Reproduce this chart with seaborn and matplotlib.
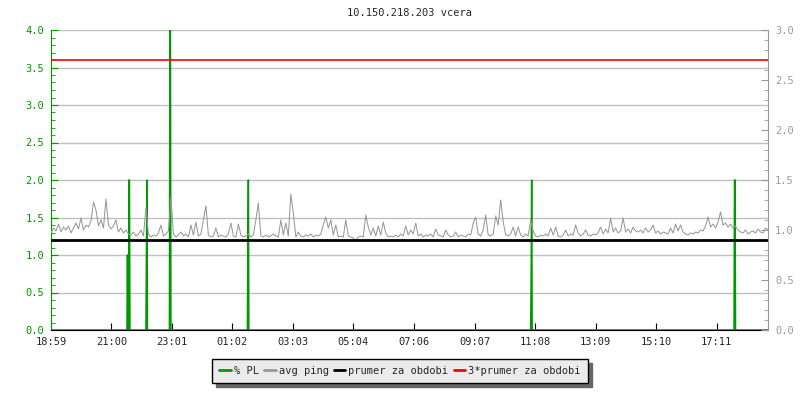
import matplotlib
matplotlib.use("Agg")
import matplotlib.pyplot as plt
import seaborn as sns
import numpy as np
import pandas as pd

title = "10.150.218.203 vcera"
time_labels = ["18:59", "21:00", "23:01", "01:02", "03:03", "05:04",
               "07:06", "09:07", "11:08", "13:09", "15:10", "17:11"]

# avg ping (ms), one sample every 5 minutes from 18:59
avg_ping = [
    0.97, 1.02, 0.99, 1.06, 0.98, 1.03, 1.00, 1.04, 0.97, 1.02, 1.07, 1.01,
    1.12, 1.00, 1.05, 1.03, 1.09, 1.28, 1.20, 1.04, 1.10, 1.02, 1.31, 1.05,
    1.01, 1.04, 1.10, 0.98, 1.02, 0.97, 1.00, 0.96, 0.95, 0.98, 0.94, 0.96,
    1.00, 0.94, 1.22, 0.96, 0.93, 0.95, 0.94, 0.97, 1.05, 0.94, 0.96, 0.99,
    1.33, 0.96, 0.93, 0.95, 0.98, 0.94, 0.96, 0.93, 1.05, 0.95, 1.08, 0.94,
    0.96, 1.10, 1.24, 0.95, 0.93, 0.94, 1.02, 0.93, 0.95, 0.94, 0.93, 0.96,
    1.07, 0.94, 0.93, 1.06, 0.95, 0.93, 0.94, 0.96, 0.93, 0.95, 1.10, 1.27,
    0.94, 0.93, 0.95, 0.93, 0.94, 0.96, 0.94, 0.93, 1.10, 0.95, 1.07, 0.94,
    1.36, 1.17, 0.93, 0.98, 0.94, 0.93, 0.95, 0.94, 0.96, 0.93, 0.95, 0.94,
    0.96, 1.05, 1.13, 1.02, 1.10, 0.95, 1.05, 0.93, 0.94, 0.93, 1.10, 0.94,
    0.93, 0.92, 0.89, 0.93, 0.94, 0.93, 1.15, 1.03, 0.95, 1.02, 0.94, 1.04,
    0.95, 1.08, 0.97, 0.93, 0.94, 0.93, 0.95, 0.93, 0.96, 0.94, 1.04, 0.95,
    1.00, 0.96, 1.07, 0.94, 0.96, 0.93, 0.95, 0.94, 0.96, 0.93, 1.01, 0.95,
    0.94, 0.93, 1.00, 0.95, 0.93, 0.94, 0.98, 0.93, 0.95, 0.94, 0.93, 0.96,
    0.95, 1.07, 1.13, 0.96, 0.94, 1.00, 1.15, 0.95, 0.94, 0.96, 1.14, 1.05,
    1.30, 1.08, 0.95, 0.94, 0.96, 1.03, 0.94, 1.03, 0.95, 0.93, 0.96, 0.94,
    1.10, 0.99, 0.94, 0.93, 0.95, 0.94, 0.96, 0.94, 1.02, 0.95, 1.03, 0.94,
    0.93, 0.95, 1.00, 0.94, 0.96, 0.95, 1.05, 0.97, 0.94, 0.96, 1.00, 0.95,
    0.94, 0.96, 0.95, 0.97, 1.03, 0.96, 1.01, 0.97, 1.12, 0.98, 1.02, 0.97,
    0.99, 1.12, 0.98, 1.01, 0.97, 1.03, 0.99, 0.98, 1.00, 0.97, 1.02, 0.98,
    1.00, 1.05, 0.97, 0.99, 0.96, 0.98, 0.97, 0.96, 1.02, 0.97, 1.06, 0.99,
    1.05, 0.98, 0.96, 0.95, 0.97, 0.96, 0.98, 0.97, 1.00, 0.99, 1.04, 1.13,
    1.03, 1.06, 1.02, 1.08, 1.18, 1.05, 1.07, 1.03, 1.06, 1.02, 1.04, 1.00,
    0.98, 0.97, 1.00, 0.96, 0.98, 0.99, 0.97, 1.01, 0.98, 0.97, 1.02, 1.00,
]
ping_step_min = 5

# packet loss (%), non-zero minutes only
pl_event_min = [153, 156, 157, 191, 192, 238, 239, 394, 395, 961, 962, 1368, 1369]
pl_event_val = [1.0, 2.0, 2.0, 1.0, 2.0, 4.0, 4.0, 1.0, 2.0, 0.75, 2.0, 2.0, 2.0]

mean_ping = 0.90
total_min = 1435

GREEN = "#009900"
GRAY = "#999999"

# minutes since 18:59 for each tick label
def minutes_from_start(lbl, start="18:59"):
    h, m = map(int, lbl.split(":"))
    h0, m0 = map(int, start.split(":"))
    return ((h * 60 + m) - (h0 * 60 + m0)) % 1440

tick_pos = [minutes_from_start(t) for t in time_labels]

ping_df = pd.DataFrame({"t": np.arange(len(avg_ping)) * ping_step_min, "ping": avg_ping})
pl = np.zeros(total_min + 1)
pl[pl_event_min] = pl_event_val
pl_df = pd.DataFrame({"t": np.arange(total_min + 1), "pl": pl})

sns.set_style("white")
plt.rcParams["font.family"] = ["DejaVu Sans Mono"]
plt.rcParams["font.size"] = 7.5

fig = plt.figure(figsize=(8, 4), dpi=100)
ax = fig.add_axes([51 / 800, 70 / 400, 717 / 800, 300 / 400])

sns.lineplot(data=pl_df, x="t", y="pl", ax=ax, color=GREEN, lw=1.1,
             estimator=None, label="% PL", legend=False)
ax.set_ylim(0, 4.0)
ax.set_xlim(0, total_min)
ax.set_yticks(np.arange(0, 4.01, 0.5))
ax.set_yticks(np.arange(0, 4.01, 0.1), minor=True)
ax.yaxis.set_major_formatter(matplotlib.ticker.FormatStrFormatter("%.1f"))
ax.grid(axis="y", color="#c0c0c0", lw=1)
ax.set_xticks(tick_pos)
ax.set_xticklabels(time_labels)
ax.tick_params(axis="y", which="major", direction="in", length=5, color=GREEN,
               labelcolor=GREEN, pad=5)
ax.tick_params(axis="y", which="minor", direction="in", length=3, color=GREEN, left=True)
ax.tick_params(axis="x", direction="in", length=5, color="black", pad=5, bottom=True)
ax.set_xlabel("")
ax.set_ylabel("")
ax.spines["left"].set_color(GREEN)
ax.spines["bottom"].set_color("black")
ax.spines["top"].set_visible(False)
ax.spines["right"].set_visible(False)
ax.set_title(title, fontsize=7.5, pad=10)

ax2 = ax.twinx()
sns.lineplot(data=ping_df, x="t", y="ping", ax=ax2, color=GRAY, lw=0.75,
             estimator=None, label="avg ping", legend=False)
ax2.axhline(mean_ping, color="black", lw=2, label="prumer za obdobi")
ax2.axhline(3 * mean_ping, color="red", lw=1.2, label="3*prumer za obdobi")
ax2.set_ylim(0, 3.0)
ax2.set_xlim(0, total_min)
ax2.set_yticks(np.arange(0, 3.01, 0.5))
ax2.set_yticks(np.arange(0, 3.01, 0.1), minor=True)
ax2.yaxis.set_major_formatter(matplotlib.ticker.FormatStrFormatter("%.1f"))
ax2.tick_params(axis="y", which="major", direction="in", length=5, color=GRAY,
                labelcolor=GRAY, pad=5)
ax2.tick_params(axis="y", which="minor", direction="in", length=3, color=GRAY, right=True)
ax2.set_ylabel("")
ax2.spines["right"].set_color(GRAY)
ax2.spines["top"].set_visible(False)
ax2.spines["left"].set_visible(False)
ax2.spines["bottom"].set_visible(False)

h1, l1 = ax.get_legend_handles_labels()
h2, l2 = ax2.get_legend_handles_labels()
leg = fig.legend(h1 + h2, l1 + l2, loc="center", bbox_to_anchor=(0.5, 0.0725),
                 ncol=4, fancybox=False, framealpha=1, facecolor="#ebebeb",
                 edgecolor="black", handlelength=1.1, handletextpad=0.3,
                 columnspacing=0.5, borderpad=0.7,
                 shadow={"ox": 3, "oy": -3, "facecolor": "#666666",
                         "edgecolor": "#666666", "alpha": 1})
leg.get_frame().set_linewidth(1)
for line in leg.get_lines():
    line.set_linewidth(2)

fig.savefig("out.png", dpi=100)
